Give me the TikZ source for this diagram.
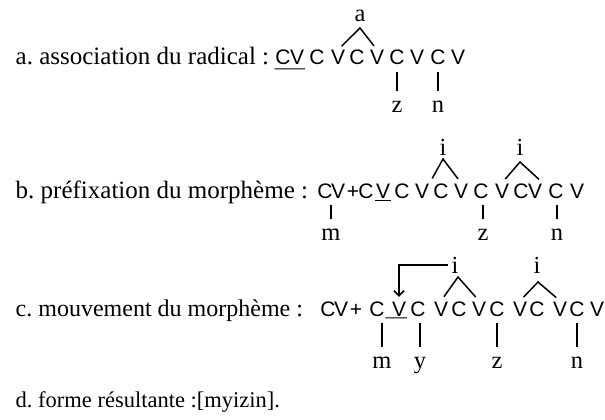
\documentclass[tikz,border=0pt]{standalone}
\usepackage{fontspec}
\setmainfont{Liberation Serif}
\newfontfamily\skelfont{Liberation Sans}
\usetikzlibrary{arrows.meta}
\frenchspacing

\begin{document}
\begin{tikzpicture}[x=1pt,y=-1pt,line width=1.5pt,>={Straight Barb[length=5pt,width=10pt]},
  txt/.style={anchor=base west,inner sep=0pt,font=\fontsize{25}{30}\selectfont},
  sk/.style={anchor=base,inner sep=0pt,font=\skelfont\fontsize{21}{25}\selectfont},
  lab/.style={anchor=base,inner sep=0pt,font=\fontsize{24.5}{29}\selectfont},
  tie/.style={shorten <=6pt,shorten >=9pt},
  leg/.style={shorten <=5pt,shorten >=5pt},
  uline/.style={line width=1pt}]
  \useasboundingbox (0,0) rectangle (605,420);
  % a. association du radical
  \node[txt] (ta) at (15,65) {a. association du radical :};
  \foreach \x/\l [count=\k] in {283/C,297/V,317/C,338/V,357/C,377/V,397/C,417/V,438/C,458/V}
    \node[sk] (a\k) at (\x,65) {\l};
  \draw[uline] ([yshift=-3pt]a1.south west) -- ([yshift=-3pt]a2.south east);
  \node[lab] (xa) at (360,22) {a};
  \coordinate (pa) at (360,28);
  \draw[leg] (a4.north) -- (pa) -- (a6.north);
  \node[lab] (za) at (397,112) {z};
  \node[lab] (na) at (438,112) {n};
  \draw[tie] (a7.south -| za.north) -- (za.north);
  \draw[tie] (a9.south -| na.north) -- (na.north);
  % b. prefixation du morpheme
  \node[txt] (tb) at (15,198) {b. préfixation du morphème :};
  \foreach \x/\l [count=\k] in {325/C,338/V,353/+,366/C,383/V,402/C,422/V,441/C,461/V,481/C,502/V,521/C,535/V,556/C,577/V}
    \node[sk] (b\k) at (\x,198) {\l};
  \draw[uline] ([yshift=-2pt]b5.south west) -- ([yshift=-2pt]b5.south east);
  \node[lab] (ib1) at (443,155) {i};
  \coordinate (pb1) at (443,159);
  \draw[leg] (b7.north east) -- (pb1) -- (b9.north);
  \node[lab] (ib2) at (520,155) {i};
  \coordinate (pb2) at (520,162);
  \draw[leg] (b11.north) -- (pb2) -- (b13.north east);
  \node[lab] (mb) at (331,240) {m};
  \node[lab] (zb) at (483,240) {z};
  \node[lab] (nb) at (557,240) {n};
  \draw[tie] (b1.south -| mb.north) -- (mb.north);
  \draw[tie] (b10.south -| zb.north) -- (zb.north);
  \draw[tie] (b14.south -| nb.north) -- (nb.north);
  % c. mouvement du morpheme
  \node[txt,font=\fontsize{24}{29}\selectfont] (tc) at (15,316) {c. mouvement du morphème :};
  \foreach \x/\l [count=\k] in {328/C,341/V,356/+,377/C,399/V,418/C,441/V,459/C,479/V,497/C,520/V,537/C,560/V,577/C,597/V}
    \node[sk] (c\k) at (\x,316) {\l};
  \draw[uline] ([yshift=-1pt]c4.south east) -- ([yshift=-1pt]c5.south east);
  \node[lab] (ic1) at (455,273) {i};
  \draw[->,shorten <=3pt,shorten >=4pt] (ic1.west) -| (c5.north);
  \coordinate (pc1) at (458,277);
  \draw[leg] (c7.north) -- (pc1) -- (c9.north);
  \node[lab] (ic2) at (537,273) {i};
  \coordinate (pc2) at (538,282);
  \draw[leg] (c11.north) -- (pc2) -- (c13.north);
  \node[lab] (mc) at (382,368) {m};
  \node[lab] (yc) at (420,368) {y};
  \node[lab] (zc) at (497,368) {z};
  \node[lab] (nc) at (577,368) {n};
  \draw[tie] (c4.south -| mc.north) -- (mc.north);
  \draw[tie] (c6.south -| yc.north) -- (yc.north);
  \draw[tie] (c10.south -| zc.north) -- (zc.north);
  \draw[tie] (c14.south -| nc.north) -- (nc.north);
  % d. forme resultante
  \node[txt,font=\fontsize{22.5}{27}\selectfont] (td) at (15,407) {d. forme résultante :[myizin].};
\end{tikzpicture}
\end{document}
